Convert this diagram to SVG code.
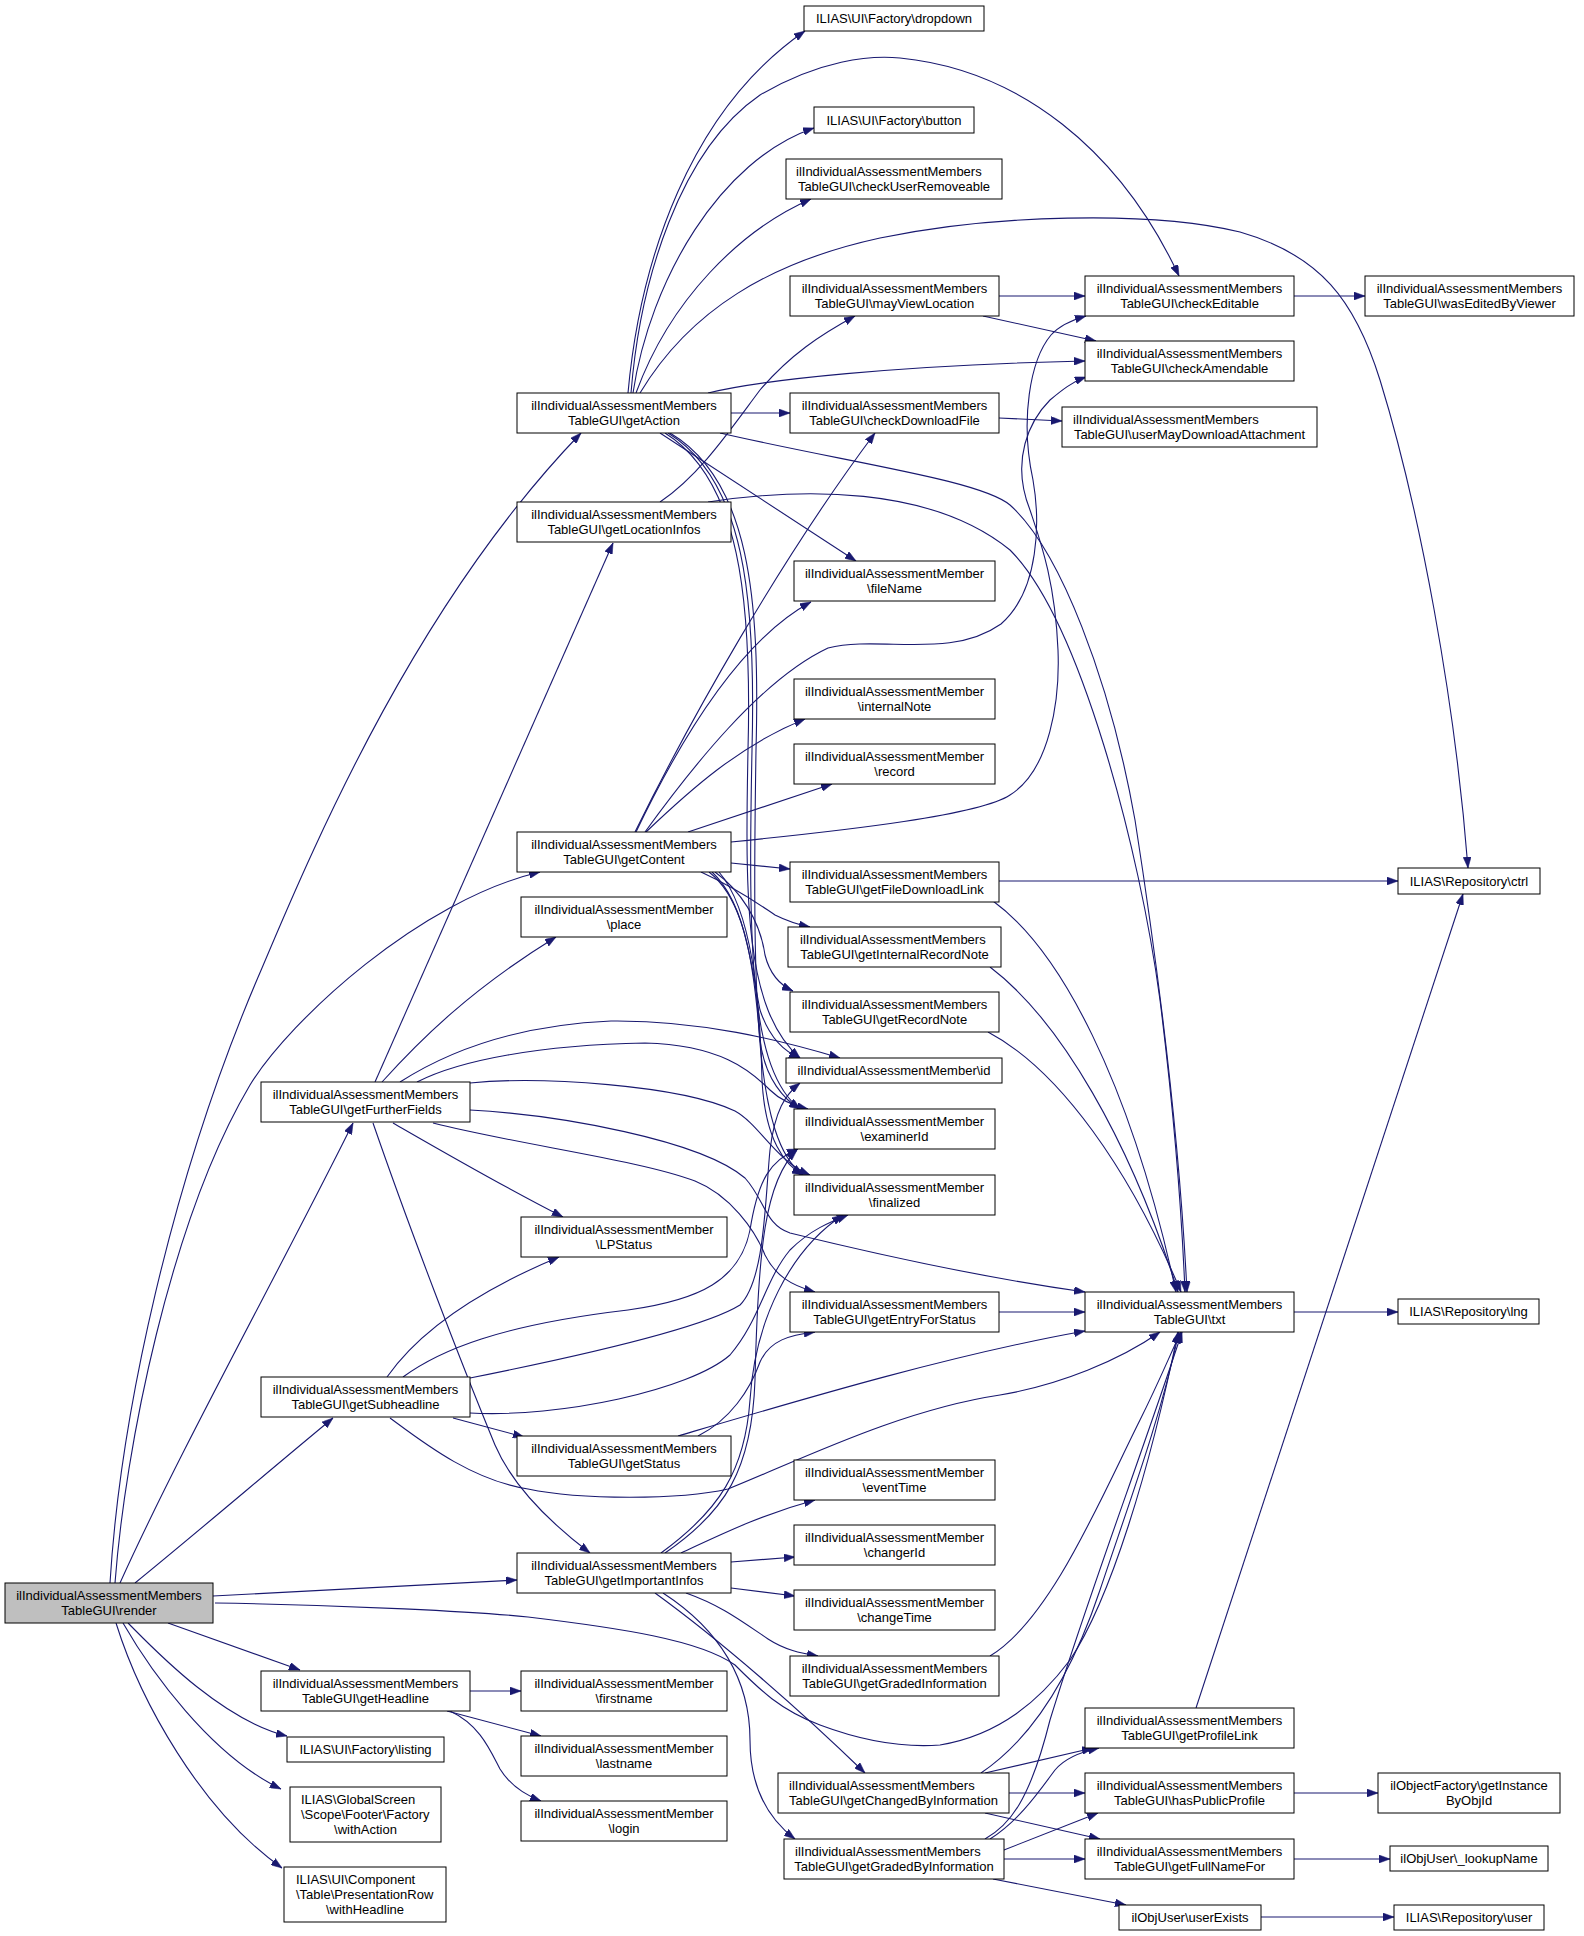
<svg xmlns="http://www.w3.org/2000/svg" width="1584" height="1936" viewBox="0 0 1584 1936">
<defs>
<marker id="ah" markerUnits="userSpaceOnUse" markerWidth="11" markerHeight="8" refX="11" refY="4" orient="auto">
<path d="M0,0 L11,4 L0,8 z" fill="#191970" stroke="#191970" stroke-width="0.5"/>
</marker>
</defs>
<style>
.node rect{fill:#ffffff;stroke:#000000;stroke-width:1}
.node.root rect{fill:#bfbfbf}
.node text{font-family:"Liberation Sans",Arial,sans-serif;font-size:13px;fill:#000000;text-anchor:middle}
.node text.l{text-anchor:start}
.edges path{fill:none;stroke:#191970;stroke-width:1.1;marker-end:url(#ah)}
</style>
<rect x="0" y="0" width="1584" height="1936" fill="#ffffff"/>
<g class="edges" id="connectors">
<!-- render -->
<path d="M110,1583 C120,1420 170,1180 262,968 C320,830 420,600 581,433"/>
<path d="M115,1583 C125,1450 170,1220 250,1085 C290,1020 420,900 540,872"/>
<path d="M120,1583 C180,1450 280,1270 353,1123"/>
<path d="M135,1583 C200,1530 270,1470 333,1418"/>
<path d="M213,1596 L517,1580"/>
<path d="M215,1603 C350,1605 480,1612 528,1617 C620,1628 700,1640 735,1665 C760,1690 780,1710 820,1725 C860,1740 900,1748 940,1745 C1000,1735 1040,1700 1070,1660 C1110,1600 1150,1470 1178,1332"/>
<path d="M168,1623 L300,1670"/>
<path d="M128,1623 C150,1645 220,1720 287,1736"/>
<path d="M123,1623 C150,1670 210,1755 281,1789"/>
<path d="M116,1623 C140,1700 200,1810 282,1868"/>
<!-- getAction -->
<path d="M628,393 C640,260 690,110 805,31"/>
<path d="M633,393 C650,280 720,160 814,128"/>
<path d="M636,393 C670,300 740,230 811,199"/>
<path d="M631,393 C640,280 680,150 760,95 C820,60 870,55 900,58 C1020,70 1120,150 1179,276"/>
<path d="M640,393 C690,310 770,262 880,238 C990,215 1150,210 1240,232 C1320,255 1355,300 1380,380 C1420,510 1455,700 1468,868"/>
<path d="M708,393 C760,380 900,365 1085,361"/>
<path d="M731,413 L790,413"/>
<path d="M720,433 C850,463 980,480 1010,505 C1060,550 1110,680 1135,820 C1160,980 1180,1150 1187,1292"/>
<path d="M660,433 L856,561"/>
<path d="M665,433 C740,480 752,600 748,750 C745,900 745,1010 800,1058"/>
<path d="M668,433 C745,480 756,600 752,750 C748,950 750,1070 800,1109"/>
<path d="M670,433 C750,480 760,600 756,750 C752,1000 755,1140 803,1175"/>
<!-- mayViewLocation, checkEditable, checkDownloadFile -->
<path d="M999,296 L1085,296"/>
<path d="M983,316 L1096,341"/>
<path d="M1294,296 L1365,296"/>
<path d="M999,418 L1062,421"/>
<!-- getLocationInfos -->
<path d="M660,502 C700,475 730,430 760,390 C790,355 820,335 855,316"/>
<path d="M708,502 C800,488 930,485 1010,550 C1080,620 1140,850 1160,1000 C1175,1120 1182,1220 1185,1292"/>
<!-- getContent -->
<path d="M635,832 C690,720 780,560 875,433"/>
<path d="M636,832 C680,740 740,640 811,602"/>
<path d="M645,832 C690,770 760,680 828,648 C880,635 950,660 1001,624 C1040,590 1040,520 1033,480 C1020,420 1030,360 1051,335 C1060,325 1072,320 1086,316"/>
<path d="M646,832 C690,790 740,745 805,719"/>
<path d="M688,832 L832,784"/>
<path d="M731,842 C850,830 980,815 1010,795 C1050,770 1060,700 1058,650 C1055,580 1040,540 1030,510 C1010,460 1030,420 1050,400 C1062,390 1072,382 1086,377"/>
<path d="M731,863 L790,869"/>
<path d="M701,872 C740,890 760,905 775,915 C785,920 795,924 810,927"/>
<path d="M715,872 C740,890 760,920 765,955 C770,975 780,985 793,991"/>
<path d="M709,872 C745,900 750,960 760,1010 C770,1040 785,1052 800,1058"/>
<path d="M712,872 C748,905 755,980 760,1040 C765,1080 785,1100 800,1109"/>
<path d="M719,872 C752,910 760,1000 762,1080 C765,1140 785,1165 803,1175"/>
<!-- getFileDownloadLink, notes -->
<path d="M999,881 L1398,881"/>
<path d="M993,901 C1060,950 1130,1080 1176,1292"/>
<path d="M990,967 C1060,1020 1130,1140 1178,1292"/>
<path d="M988,1032 C1060,1070 1130,1170 1181,1292"/>
<!-- getFurtherFields -->
<path d="M375,1082 L613,543"/>
<path d="M382,1082 C420,1040 470,990 556,937"/>
<path d="M400,1082 C450,1050 520,1025 611,1021 C700,1020 780,1040 840,1058"/>
<path d="M417,1082 C460,1060 540,1045 645,1043 C720,1045 750,1070 770,1090 C780,1100 795,1106 808,1109"/>
<path d="M470,1083 C540,1076 680,1085 735,1111 C760,1125 775,1160 810,1175"/>
<path d="M470,1110 C560,1115 700,1140 745,1178 C765,1200 765,1225 790,1233 C900,1260 1000,1280 1085,1292"/>
<path d="M433,1123 C520,1145 640,1160 695,1181 C730,1195 755,1230 765,1255 C775,1275 790,1285 815,1292"/>
<path d="M393,1123 C440,1150 500,1185 563,1217"/>
<path d="M373,1123 C410,1230 460,1360 495,1445 C510,1480 540,1515 590,1553"/>
<!-- getSubheadline -->
<path d="M387,1377 C420,1330 480,1290 559,1257"/>
<path d="M403,1377 C440,1350 500,1325 628,1310 C700,1300 740,1280 750,1230 C758,1180 770,1160 798,1149"/>
<path d="M470,1378 C560,1360 700,1330 740,1305 C765,1280 765,1200 770,1150 C775,1110 785,1095 800,1083"/>
<path d="M470,1413 C560,1418 690,1390 730,1355 C760,1320 765,1280 790,1250 C810,1230 830,1222 848,1215"/>
<path d="M453,1418 L524,1437"/>
<path d="M390,1418 C420,1440 470,1480 528,1489 C580,1500 680,1500 728,1489 C800,1460 900,1410 1000,1395 C1060,1385 1120,1360 1160,1332"/>
<!-- getStatus -->
<path d="M698,1436 C730,1420 750,1390 760,1362 C770,1340 790,1335 815,1332"/>
<path d="M678,1436 C800,1400 950,1355 1085,1331"/>
<path d="M999,1312 L1085,1312"/>
<path d="M1294,1312 L1398,1312"/>
<!-- getImportantInfos -->
<path d="M661,1553 C720,1510 745,1470 750,1400 C755,1320 790,1250 843,1215"/>
<path d="M665,1553 C725,1512 752,1470 755,1380 C758,1250 765,1180 797,1150"/>
<path d="M681,1553 C720,1535 760,1515 815,1500"/>
<path d="M731,1562 L795,1557"/>
<path d="M731,1588 L795,1596"/>
<path d="M686,1593 C720,1605 740,1620 768,1639 C785,1650 800,1653 818,1656"/>
<path d="M655,1593 C720,1640 800,1710 865,1773"/>
<path d="M663,1593 C720,1630 750,1680 750,1740 C750,1790 770,1820 795,1839"/>
<!-- getHeadline -->
<path d="M470,1691 L521,1691"/>
<path d="M447,1711 L541,1736"/>
<path d="M450,1711 C480,1725 490,1750 500,1769 C510,1785 525,1795 541,1801"/>
<!-- getGradedInformation, getChangedBy, getGradedBy -->
<path d="M990,1656 C1050,1620 1100,1500 1140,1420 C1160,1380 1172,1350 1181,1332"/>
<path d="M981,1773 C1030,1740 1070,1680 1100,1590 C1130,1500 1160,1420 1179,1332"/>
<path d="M985,1773 L1093,1748"/>
<path d="M1009,1793 L1085,1793"/>
<path d="M985,1813 L1100,1839"/>
<path d="M985,1839 C1010,1825 1030,1800 1050,1720 C1090,1590 1140,1460 1182,1332"/>
<path d="M990,1839 C1020,1820 1040,1790 1055,1770 C1065,1758 1080,1752 1099,1748"/>
<path d="M1004,1850 L1098,1813"/>
<path d="M1004,1859 L1085,1859"/>
<path d="M993,1879 L1126,1905"/>
<!-- right side -->
<path d="M1196,1708 L1463,894"/>
<path d="M1294,1793 L1378,1793"/>
<path d="M1294,1859 L1390,1859"/>
<path d="M1261,1917 L1394,1917"/>
</g>
<g class="node root" id="n_render"><rect x="5" y="1583" width="208" height="40"/><text x="109" y="1600">ilIndividualAssessmentMembers</text><text x="109" y="1614.5">TableGUI\render</text></g>
<g class="node" id="n_getAction"><rect x="517" y="393" width="214" height="40"/><text x="624" y="410">ilIndividualAssessmentMembers</text><text x="624" y="424.5">TableGUI\getAction</text></g>
<g class="node" id="n_getLocationInfos"><rect x="517" y="502" width="214" height="40"/><text x="624" y="519">ilIndividualAssessmentMembers</text><text x="624" y="533.5">TableGUI\getLocationInfos</text></g>
<g class="node" id="n_getContent"><rect x="517" y="832" width="214" height="40"/><text x="624" y="849">ilIndividualAssessmentMembers</text><text x="624" y="863.5">TableGUI\getContent</text></g>
<g class="node" id="n_place"><rect x="521" y="897" width="206" height="40"/><text x="624" y="914">ilIndividualAssessmentMember</text><text x="624" y="928.5">\place</text></g>
<g class="node" id="n_getFurtherFields"><rect x="261" y="1082" width="209" height="40"/><text x="365.5" y="1099">ilIndividualAssessmentMembers</text><text x="365.5" y="1113.5">TableGUI\getFurtherFields</text></g>
<g class="node" id="n_LPStatus"><rect x="521" y="1217" width="206" height="40"/><text x="624" y="1234">ilIndividualAssessmentMember</text><text x="624" y="1248.5">\LPStatus</text></g>
<g class="node" id="n_getSubheadline"><rect x="261" y="1377" width="209" height="40"/><text x="365.5" y="1394">ilIndividualAssessmentMembers</text><text x="365.5" y="1408.5">TableGUI\getSubheadline</text></g>
<g class="node" id="n_getStatus"><rect x="517" y="1436" width="214" height="40"/><text x="624" y="1453">ilIndividualAssessmentMembers</text><text x="624" y="1467.5">TableGUI\getStatus</text></g>
<g class="node" id="n_getImportantInfos"><rect x="517" y="1553" width="214" height="40"/><text x="624" y="1570">ilIndividualAssessmentMembers</text><text x="624" y="1584.5">TableGUI\getImportantInfos</text></g>
<g class="node" id="n_getHeadline"><rect x="261" y="1671" width="209" height="40"/><text x="365.5" y="1688">ilIndividualAssessmentMembers</text><text x="365.5" y="1702.5">TableGUI\getHeadline</text></g>
<g class="node" id="n_firstname"><rect x="521" y="1671" width="206" height="40"/><text x="624" y="1688">ilIndividualAssessmentMember</text><text x="624" y="1702.5">\firstname</text></g>
<g class="node" id="n_lastname"><rect x="521" y="1736" width="206" height="40"/><text x="624" y="1753">ilIndividualAssessmentMember</text><text x="624" y="1767.5">\lastname</text></g>
<g class="node" id="n_login"><rect x="521" y="1801" width="206" height="40"/><text x="624" y="1818">ilIndividualAssessmentMember</text><text x="624" y="1832.5">\login</text></g>
<g class="node" id="n_listing"><rect x="287" y="1737" width="157" height="25"/><text x="365.5" y="1754">ILIAS\UI\Factory\listing</text></g>
<g class="node" id="n_withAction"><rect x="290" y="1787" width="151" height="55"/><text class="l" x="301" y="1803.5">ILIAS\GlobalScreen</text><text class="l" x="301" y="1818.5">\Scope\Footer\Factory</text><text x="365.5" y="1833.5">\withAction</text></g>
<g class="node" id="n_withHeadline"><rect x="284" y="1867" width="162" height="55"/><text class="l" x="296" y="1883.5">ILIAS\UI\Component</text><text class="l" x="296" y="1898.5">\Table\PresentationRow</text><text x="365" y="1913.5">\withHeadline</text></g>
<g class="node" id="n_dropdown"><rect x="804" y="6" width="180" height="25"/><text x="894" y="23">ILIAS\UI\Factory\dropdown</text></g>
<g class="node" id="n_button"><rect x="814" y="107" width="160" height="26"/><text x="894" y="124.5">ILIAS\UI\Factory\button</text></g>
<g class="node" id="n_checkUserRemoveable"><rect x="786" y="159" width="216" height="40"/><text class="l" x="796" y="176">ilIndividualAssessmentMembers</text><text x="894" y="190.5">TableGUI\checkUserRemoveable</text></g>
<g class="node" id="n_mayViewLocation"><rect x="790" y="276" width="209" height="40"/><text x="894.5" y="293">ilIndividualAssessmentMembers</text><text x="894.5" y="307.5">TableGUI\mayViewLocation</text></g>
<g class="node" id="n_checkDownloadFile"><rect x="790" y="393" width="209" height="40"/><text x="894.5" y="410">ilIndividualAssessmentMembers</text><text x="894.5" y="424.5">TableGUI\checkDownloadFile</text></g>
<g class="node" id="n_fileName"><rect x="794" y="561" width="201" height="40"/><text x="894.5" y="578">ilIndividualAssessmentMember</text><text x="894.5" y="592.5">\fileName</text></g>
<g class="node" id="n_internalNote"><rect x="794" y="679" width="201" height="40"/><text x="894.5" y="696">ilIndividualAssessmentMember</text><text x="894.5" y="710.5">\internalNote</text></g>
<g class="node" id="n_record"><rect x="794" y="744" width="201" height="40"/><text x="894.5" y="761">ilIndividualAssessmentMember</text><text x="894.5" y="775.5">\record</text></g>
<g class="node" id="n_getFileDownloadLink"><rect x="790" y="862" width="209" height="40"/><text x="894.5" y="879">ilIndividualAssessmentMembers</text><text x="894.5" y="893.5">TableGUI\getFileDownloadLink</text></g>
<g class="node" id="n_getInternalRecordNote"><rect x="788" y="927" width="213" height="40"/><text class="l" x="800" y="944">ilIndividualAssessmentMembers</text><text x="894.5" y="958.5">TableGUI\getInternalRecordNote</text></g>
<g class="node" id="n_getRecordNote"><rect x="790" y="992" width="209" height="40"/><text x="894.5" y="1009">ilIndividualAssessmentMembers</text><text x="894.5" y="1023.5">TableGUI\getRecordNote</text></g>
<g class="node" id="n_id"><rect x="786" y="1058" width="216" height="25"/><text x="894" y="1075">ilIndividualAssessmentMember\id</text></g>
<g class="node" id="n_examinerId"><rect x="794" y="1109" width="201" height="40"/><text x="894.5" y="1126">ilIndividualAssessmentMember</text><text x="894.5" y="1140.5">\examinerId</text></g>
<g class="node" id="n_finalized"><rect x="794" y="1175" width="201" height="40"/><text x="894.5" y="1192">ilIndividualAssessmentMember</text><text x="894.5" y="1206.5">\finalized</text></g>
<g class="node" id="n_getEntryForStatus"><rect x="790" y="1292" width="209" height="40"/><text x="894.5" y="1309">ilIndividualAssessmentMembers</text><text x="894.5" y="1323.5">TableGUI\getEntryForStatus</text></g>
<g class="node" id="n_eventTime"><rect x="794" y="1460" width="201" height="40"/><text x="894.5" y="1477">ilIndividualAssessmentMember</text><text x="894.5" y="1491.5">\eventTime</text></g>
<g class="node" id="n_changerId"><rect x="794" y="1525" width="201" height="40"/><text x="894.5" y="1542">ilIndividualAssessmentMember</text><text x="894.5" y="1556.5">\changerId</text></g>
<g class="node" id="n_changeTime"><rect x="794" y="1590" width="201" height="40"/><text x="894.5" y="1607">ilIndividualAssessmentMember</text><text x="894.5" y="1621.5">\changeTime</text></g>
<g class="node" id="n_getGradedInformation"><rect x="790" y="1656" width="209" height="40"/><text x="894.5" y="1673">ilIndividualAssessmentMembers</text><text x="894.5" y="1687.5">TableGUI\getGradedInformation</text></g>
<g class="node" id="n_getChangedByInformation"><rect x="778" y="1773" width="231" height="40"/><text class="l" x="789" y="1790">ilIndividualAssessmentMembers</text><text x="893.5" y="1804.5">TableGUI\getChangedByInformation</text></g>
<g class="node" id="n_getGradedByInformation"><rect x="784" y="1839" width="220" height="40"/><text class="l" x="795" y="1856">ilIndividualAssessmentMembers</text><text x="894" y="1870.5">TableGUI\getGradedByInformation</text></g>
<g class="node" id="n_checkEditable"><rect x="1085" y="276" width="209" height="40"/><text x="1189.5" y="293">ilIndividualAssessmentMembers</text><text x="1189.5" y="307.5">TableGUI\checkEditable</text></g>
<g class="node" id="n_checkAmendable"><rect x="1085" y="341" width="209" height="40"/><text x="1189.5" y="358">ilIndividualAssessmentMembers</text><text x="1189.5" y="372.5">TableGUI\checkAmendable</text></g>
<g class="node" id="n_userMayDownloadAttachment"><rect x="1062" y="407" width="255" height="40"/><text class="l" x="1073" y="424">ilIndividualAssessmentMembers</text><text x="1189.5" y="438.5">TableGUI\userMayDownloadAttachment</text></g>
<g class="node" id="n_txt"><rect x="1085" y="1292" width="209" height="40"/><text x="1189.5" y="1309">ilIndividualAssessmentMembers</text><text x="1189.5" y="1323.5">TableGUI\txt</text></g>
<g class="node" id="n_getProfileLink"><rect x="1085" y="1708" width="209" height="40"/><text x="1189.5" y="1725">ilIndividualAssessmentMembers</text><text x="1189.5" y="1739.5">TableGUI\getProfileLink</text></g>
<g class="node" id="n_hasPublicProfile"><rect x="1085" y="1773" width="209" height="40"/><text x="1189.5" y="1790">ilIndividualAssessmentMembers</text><text x="1189.5" y="1804.5">TableGUI\hasPublicProfile</text></g>
<g class="node" id="n_getFullNameFor"><rect x="1085" y="1839" width="209" height="40"/><text x="1189.5" y="1856">ilIndividualAssessmentMembers</text><text x="1189.5" y="1870.5">TableGUI\getFullNameFor</text></g>
<g class="node" id="n_userExists"><rect x="1119" y="1905" width="142" height="25"/><text x="1190" y="1922">ilObjUser\userExists</text></g>
<g class="node" id="n_wasEditedByViewer"><rect x="1365" y="276" width="209" height="40"/><text x="1469.5" y="293">ilIndividualAssessmentMembers</text><text x="1469.5" y="307.5">TableGUI\wasEditedByViewer</text></g>
<g class="node" id="n_ctrl"><rect x="1398" y="868" width="142" height="26"/><text x="1469" y="885.5">ILIAS\Repository\ctrl</text></g>
<g class="node" id="n_lng"><rect x="1398" y="1299" width="141" height="25"/><text x="1468.5" y="1316">ILIAS\Repository\lng</text></g>
<g class="node" id="n_getInstanceByObjId"><rect x="1378" y="1773" width="182" height="40"/><text x="1469" y="1790">ilObjectFactory\getInstance</text><text x="1469" y="1804.5">ByObjId</text></g>
<g class="node" id="n_lookupName"><rect x="1390" y="1846" width="158" height="25"/><text x="1469" y="1863">ilObjUser\_lookupName</text></g>
<g class="node" id="n_user"><rect x="1394" y="1905" width="150" height="25"/><text x="1469" y="1922">ILIAS\Repository\user</text></g>
</svg>
